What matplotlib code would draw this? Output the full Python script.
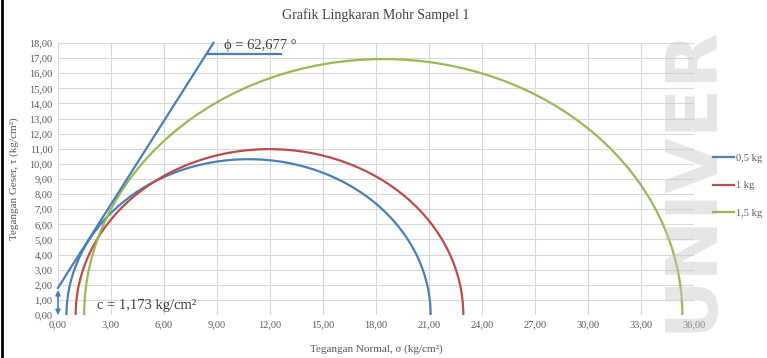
import numpy as np
import matplotlib.pyplot as plt
from matplotlib.patches import Arc
from matplotlib.lines import Line2D

# Mohr circles: minor / major principal stress (kg/cm2)
series = ["0,5 kg", "1 kg", "1,5 kg"]
sigma3 = [0.48, 1.0, 1.48]
sigma1 = [21.1, 22.95, 35.35]
colors = ["#4a7ebb", "#be4b48", "#98b954"]

# failure envelope end points
env_x = [0.0, 8.8]
env_y = [1.8, 18.0]
phi_mark_x = [8.5, 12.6]
phi_mark_y = [17.25, 17.25]
c_arrow = (0.0, 1.65)

xticks = np.arange(0, 37, 3)
yticks = np.arange(0, 19, 1)

plt.rcParams["font.family"] = ["Liberation Serif", "DejaVu Serif"]

fig = plt.figure(figsize=(7.67, 3.58), dpi=100)
ax = fig.add_axes([0.0756, 0.120, 0.829, 0.760])

# watermark in the background
fig.text(0.902, 0.50, "UNIVER", rotation=90, fontsize=52, fontweight="bold",
         family="DejaVu Sans", color="#c8c8c8", alpha=0.45, ha="center", va="center",
         zorder=0)

for s3, s1, col in zip(sigma3, sigma1, colors):
    cen = (s3 + s1) / 2
    d = s1 - s3
    ax.add_patch(Arc((cen, 0), d, d, theta1=0, theta2=180, color=col, lw=1.6, zorder=3))

ax.plot(env_x, env_y, color="#4a7ebb", lw=1.6, zorder=4, clip_on=False)
ax.plot(phi_mark_x, phi_mark_y, color="#4a7ebb", lw=1.6, zorder=4)
ax.annotate("", xy=(c_arrow[0], 0.0), xytext=(c_arrow[0], c_arrow[1]),
            arrowprops=dict(arrowstyle="<|-|>", color="#4a7ebb", lw=1.2,
                            mutation_scale=7, shrinkA=0, shrinkB=0), zorder=5)

ax.text(11.45, 17.85, "ϕ = 62,677 °", fontsize=10.5, color="#404040",
        ha="center", va="center")
ax.text(2.2, 0.62, "c = 1,173 kg/cm²", fontsize=10.5, color="#404040",
        ha="left", va="center")

ax.set_xlim(0, 36)
ax.set_ylim(0, 18)
ax.set_xticks(xticks)
ax.set_yticks(yticks)
ax.set_xticklabels([f"{v:.2f}".replace(".", ",") for v in xticks])
ax.set_yticklabels([f"{v:.2f}".replace(".", ",") for v in yticks])
ax.tick_params(length=0, labelsize=7.5, colors="#595959", pad=4)
ax.grid(True, color="#d9d9d9", lw=0.8)
ax.set_axisbelow(True)
for sp in ax.spines.values():
    sp.set_visible(False)
ax.patch.set_alpha(0)

ax.set_title("Grafik Lingkaran Mohr Sampel 1", fontsize=10, color="#404040", pad=17)
ax.set_xlabel("Tegangan Normal, σ (kg/cm²)", fontsize=8, color="#595959", labelpad=11)
ax.set_ylabel("Tegangan Geser, τ (kg/cm²)", fontsize=8, color="#595959", labelpad=7)

handles = [Line2D([], [], color=c, lw=1.6) for c in colors]
fig.legend(handles, series, loc="center left", bbox_to_anchor=(0.929, 0.481),
           frameon=False, fontsize=7.5, handlelength=2.1, handletextpad=0.15,
           labelspacing=1.75, borderpad=0, borderaxespad=0, labelcolor="#595959")

# dark border strip at left edge of the scan
fig.add_artist(Line2D([0.002, 0.002], [0, 1], color="black", lw=2, transform=fig.transFigure))

fig.savefig("out.png", dpi=100)
